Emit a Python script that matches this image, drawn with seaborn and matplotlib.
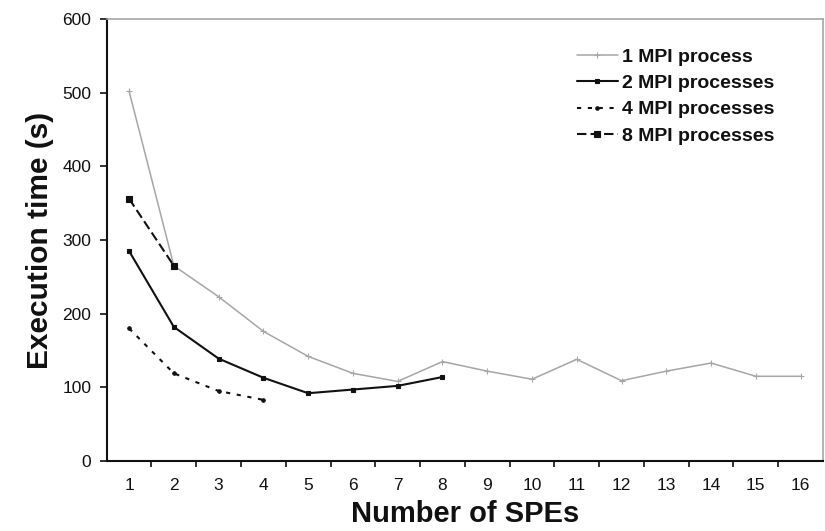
import matplotlib
matplotlib.use("Agg")
import matplotlib.pyplot as plt
import seaborn as sns
import pandas as pd
from matplotlib.ticker import FixedLocator, NullFormatter

# ---- data ----
spes = list(range(1, 17))
labels = ["1 MPI process", "2 MPI processes", "4 MPI processes", "8 MPI processes"]
mpi1 = [502, 265, 223, 176, 142, 119, 108, 135, 122, 111, 138, 109, 122, 133, 115, 115]
mpi2 = [285, 182, 139, 113, 92, 97, 102, 114]
mpi4 = [180, 119, 95, 83]
mpi8 = [356, 265]
yticks = [0, 100, 200, 300, 400, 500, 600]

series = [mpi1, mpi2, mpi4, mpi8]

sns.set_style("white")
plt.rcParams["font.family"] = ["Liberation Sans", "DejaVu Sans"]

fig = plt.figure(figsize=(8.25, 5.31), dpi=100)
ax = fig.add_axes([106.7 / 825, 1 - 461 / 531, (823 - 106.7) / 825, (461 - 19) / 531])

colors = ["#a6a6a6", "#111111", "#111111", "#111111"]
dash_styles = [(None, None), (None, None), (2, 3.2), (4.5, 2)]
marker_list = ["+", "s", "o", "s"]
widths = [1.1, 1.5, 1.5, 1.5]
msizes = [4, 3, 2.5, 4.5]

for lab, vals, c, d, m, w, ms in zip(labels, series, colors, dash_styles, marker_list, widths, msizes):
    sub = pd.DataFrame({"SPEs": spes[:len(vals)], "time": vals})
    kw = {}
    if d[0] is not None:
        kw["dashes"] = d
    sns.lineplot(data=sub, x="SPEs", y="time", ax=ax, color=c, marker=m,
                 markersize=ms, linewidth=w, markeredgewidth=0.8,
                 markeredgecolor=c, label=lab, sort=False, **kw)

ax.set_xlim(0.5, 16.5)
ax.set_ylim(0, 600)
ax.set_xticks(spes)
ax.set_xticklabels([str(s) for s in spes])
ax.xaxis.set_minor_locator(FixedLocator([s + 0.5 for s in range(1, 16)]))
ax.xaxis.set_minor_formatter(NullFormatter())
ax.tick_params(axis="x", which="major", length=0, pad=12, labelsize=12.5, colors="#111111")
ax.tick_params(axis="x", which="minor", length=4, width=1.2, direction="out", bottom=True, color="#111111")
ax.set_yticks(yticks)
ax.tick_params(axis="y", which="major", length=5, width=1.2, direction="out", left=True,
               pad=6, labelsize=12.5, colors="#111111")

for side in ["left", "bottom"]:
    ax.spines[side].set_color("#111111")
    ax.spines[side].set_linewidth(1.5)
for side in ["top", "right"]:
    ax.spines[side].set_color("#a6a6a6")
    ax.spines[side].set_linewidth(1.2)
    ax.spines[side].set_visible(True)

ax.set_xlabel("Number of SPEs", fontsize=21, fontweight="bold", labelpad=5, color="#111111")
ax.set_ylabel("Execution time (s)", fontsize=21.5, fontweight="bold", labelpad=6, color="#111111")

handles, labs = ax.get_legend_handles_labels()
leg = ax.legend(handles, labs, loc="upper left", bbox_to_anchor=(577 / 825, 1 - 48 / 531),
                bbox_transform=fig.transFigure, frameon=False, borderpad=0, borderaxespad=0,
                handlelength=2.1, handletextpad=0.2, labelspacing=0.45,
                prop={"size": 14, "weight": "bold"})
for t in leg.get_texts():
    t.set_color("#111111")

fig.savefig("out.png", dpi=100)
